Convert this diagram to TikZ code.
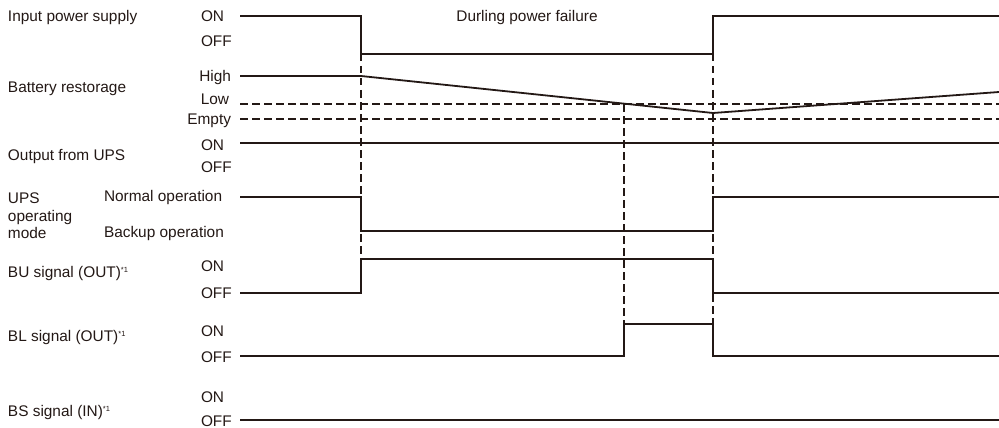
\documentclass[tikz,border=0pt]{standalone}
\usepackage{fontspec}
\setmainfont{Liberation Sans}
\definecolor{ink}{HTML}{231815}
\newcommand{\fnmark}{\raisebox{5.5pt}{\fontsize{7.5}{8}\selectfont *1}}
\begin{document}
\begin{tikzpicture}[x=1pt,y=-1pt,
  every node/.style={inner sep=0pt,outer sep=0pt,text=ink,font=\fontsize{15.4}{17}\selectfont},
  lbl/.style={anchor=base west},
  rlbl/.style={anchor=base east},
  wave/.style={draw=ink,line width=1.8pt,line join=miter},
  dashln/.style={draw=ink,line width=1.8pt,dash pattern=on 7.5pt off 4.5pt}]
\useasboundingbox (0,0) rectangle (999,428);
% time coordinates
\coordinate (tA) at (361,0);
\coordinate (tB) at (624,0);
\coordinate (tC) at (713,0);
% left labels
\node[lbl] (l1) at (8,22) {Input power supply};
\node[lbl] (l2) at (8,92.5) {Battery restorage};
\node[lbl] (l3) at (8,160.5) {Output from UPS};
\node[lbl] (l4a) at (8,203.5) {UPS};
\node[lbl] (l4b) at (8,221) {operating};
\node[lbl] (l4c) at (8,238.5) {mode};
\node[lbl] (l5) at (8,277.5) {BU signal (OUT)\fnmark};
\node[lbl] (l6) at (8,341.5) {BL signal (OUT)\fnmark};
\node[lbl] (l7) at (8,416.5) {BS signal (IN)\fnmark};
% level labels
\node[lbl] (s1on) at (201,21.5) {ON};
\node[lbl] (s1off) at (201,46.5) {OFF};
\node[rlbl] (s2hi) at (231,81.5) {High};
\node[rlbl] (s2lo) at (229,104.5) {Low};
\node[rlbl] (s2em) at (231,124.5) {Empty};
\node[lbl] (s3on) at (201,150.5) {ON};
\node[lbl] (s3off) at (201,172) {OFF};
\node[lbl] (s4n) at (104,201.5) {Normal operation};
\node[lbl] (s4b) at (104,237.5) {Backup operation};
\node[lbl] (s5on) at (201,271.5) {ON};
\node[lbl] (s5off) at (201,298.5) {OFF};
\node[lbl] (s6on) at (201,336.5) {ON};
\node[lbl] (s6off) at (201,362.5) {OFF};
\node[lbl] (s7on) at (201,402.5) {ON};
\node[lbl] (s7off) at (201,426.5) {OFF};
\node[anchor=base] (pf) at (527,21.5) {Durling power failure};
% reference dashed levels
\draw[dashln] (240,104) -- (999,104);
\draw[dashln] (240,119) -- (999,119);
% vertical dashed markers
\draw[dashln] (tA |- 0,54) -- (tA |- 0,259);
\draw[dashln] (tB |- 0,104) -- (tB |- 0,324);
\draw[dashln] (tC |- 0,54) -- (tC |- 0,324);
% waveforms
\draw[wave] (240,16) -- (tA |- 0,16) -- (tA |- 0,54) -- (tC |- 0,54) -- (tC |- 0,16) -- (999,16);
\draw[wave] (240,76) -- (tA |- 0,76) -- (tC |- 0,113) -- (999,92);
\draw[wave] (240,143) -- (999,143);
\draw[wave] (240,197) -- (tA |- 0,197) -- (tA |- 0,231) -- (tC |- 0,231) -- (tC |- 0,197) -- (999,197);
\draw[wave] (240,293) -- (tA |- 0,293) -- (tA |- 0,259) -- (tC |- 0,259) -- (tC |- 0,293) -- (999,293);
\draw[wave] (240,356) -- (tB |- 0,356) -- (tB |- 0,324) -- (tC |- 0,324) -- (tC |- 0,356) -- (999,356);
\draw[wave] (240,420) -- (999,420);
\end{tikzpicture}
\end{document}
